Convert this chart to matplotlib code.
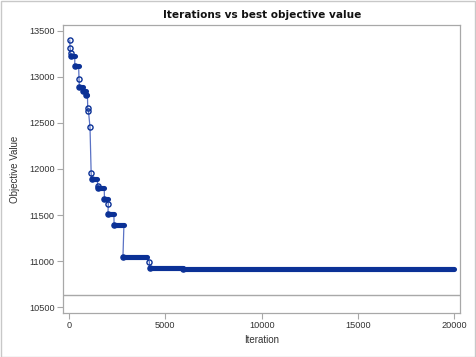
import matplotlib
matplotlib.use("Agg")
import matplotlib.pyplot as plt
from matplotlib.patches import Rectangle

# Plateaus of best objective value: first iteration, last iteration, value
plateau_start = [40, 55, 80, 100, 300, 520, 540, 730, 900, 970, 1010, 1090, 1150,
                 1170, 1490, 1510, 1840, 2040, 2020, 2340, 2800, 4170, 4180, 5930]
plateau_end = [40, 55, 80, 300, 500, 520, 720, 870, 960, 970, 1010, 1090, 1150,
               1470, 1490, 1830, 2010, 2040, 2330, 2850, 4050, 4170, 5900, 20000]
plateau_value = [13400, 13320, 13265, 13225, 13120, 12980, 12890, 12845, 12800, 12665,
                 12630, 12455, 11955, 11888, 11818, 11790, 11670, 11620, 11508, 11391,
                 11047, 10992, 10920, 10910]
ref_value = 10630

x_ticks = [0, 5000, 10000, 15000, 20000]
y_ticks = [10500, 11000, 11500, 12000, 12500, 13000, 13500]

dark = "#0b3196"
light = "#5a72c4"
gray = "#a8a8a8"
txt = "#333333"

plt.rcParams['font.family'] = ['Liberation Sans', 'DejaVu Sans']

fig = plt.figure(figsize=(4.76, 3.57), dpi=100)
ax = fig.add_axes([63/476, 1 - 313/357, (460 - 63)/476, (313 - 25)/357])

# connecting series line
xs, ys = [], []
for s, e, v in zip(plateau_start, plateau_end, plateau_value):
    xs += [s, e]
    ys += [v, v]
ax.plot(xs, ys, color=light, lw=0.9, zorder=2)

# dense markers forming bands
for s, e, v in zip(plateau_start, plateau_end, plateau_value):
    if e > s:
        ax.plot([s, e], [v, v], color=dark, lw=3.7, solid_capstyle='round', zorder=3)
    ax.plot([s], [v], marker='o', ms=3.7, mfc='none', mec=dark, mew=1.0, ls='none', zorder=4)

ax.axhline(ref_value, color=gray, lw=1, zorder=1)

ax.set_xlim(-311, 20290)
ax.set_ylim(10435, 13565)
ax.set_xticks(x_ticks)
ax.set_yticks(y_ticks)
ax.set_xticklabels([str(t) for t in x_ticks])
ax.set_yticklabels([str(t) for t in y_ticks])
ax.tick_params(colors=gray, labelcolor=txt, labelsize=6.6, length=4, width=0.8, pad=2)
for sp in ax.spines.values():
    sp.set_color(gray)
    sp.set_linewidth(0.9)

ax.set_xlabel("Iteration", fontsize=7, color=txt)
ax.set_ylabel("Objective Value", fontsize=7, color=txt)
ax.xaxis.set_label_coords((262 - 63)/397, -(335 - 313)/288)
ax.yaxis.set_label_coords(-(63 - 20)/397, 0.5)

fig.text(262/476, 1 - 15/357, "Iterations vs best objective value", ha='center', va='center',
         fontsize=7.6, fontweight='bold', family='DejaVu Sans', color='#111111')

fig.patches.append(Rectangle((0.5/476, 0.5/357), 1 - 1.5/476, 1 - 1.5/357, transform=fig.transFigure,
                             fill=False, ec='#c8c8c8', lw=1))

fig.savefig("out.png", dpi=100)
